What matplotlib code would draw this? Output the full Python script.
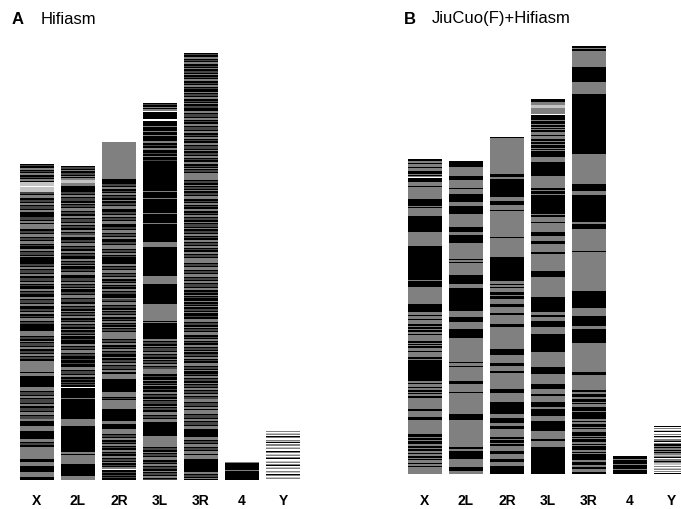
import numpy as np
import matplotlib.pyplot as plt

plt.rcParams['font.family'] = ['Liberation Sans', 'DejaVu Sans']

# chromosome arms, left to right
chrom_names = ['X', '2L', '2R', '3L', '3R', '4', 'Y']

# contig runs per arm, top to bottom: colour letter + length in 75 kb bins
# k = black contig, g = grey contig, d = dark grey (dense small contigs),
# l = light grey, w = gap
A_X = ("k1 d1 k2 g2 k1 d1 k1 g2 k2 d1 k1 g2 k1 l4 w1 l5 "
       "d2 k1 g3 k2 d2 k1 g2 k1 d3 k1 g2 k2 k3 d3 k1 g2 k1 g5 k2 "
       "d2 k1 g3 k1 d2 k1 g3 k1 d1 k3 g2 k1 d3 k1 g1 k7 "
       "d2 k1 g2 k1 d3 k1 g2 k2 d3 k1 g2 k1 d1 k3 g2 k1 d2 k3 "
       "g2 k1 d3 k1 g2 k3 d2 k1 g2 k2 d1 k1 g3 k1 d2 k7 g5 "
       "k1 d2 k2 g1 k1 d3 k1 g2 k2 d2 k1 g2 k1 d2 k2 g11 k1 g3 k11 g4 "
       "k1 d3 k1 g2 k1 d4 k1 g2 k2 d3 k1 g3 k1 d3 g2 k5 g5 k8 g3 "
       "k1 d2 k2 g2 g10 k3 g4 k6 g5 k3")
A_2L = ("k1 d2 k1 g1 k2 d2 k1 g1 k1 g2 l3 g3 k6 "
        "d2 k1 g2 k1 d3 k2 g1 k1 d2 k1 g3 k1 d2 k2 g2 k1 d3 k1 g2 k1 d2 k2 g2 k1 d2 g2 "
        "k3 d2 k1 g3 k1 d2 k2 g2 k1 d2 k1 k2 g2 k1 d2 k1 g1 k3 d2 k1 g3 k1 k2 "
        "d3 k1 g2 k1 d2 k1 g1 k3 d2 k1 g3 k1 d3 k2 g2 k1 d2 k2 g1 k1 d2 "
        "k1 g2 k2 d1 k1 g2 k1 d2 k2 g1 k2 d2 k1 g1 k3 d1 k4 "
        "g2 k1 d2 k1 g3 k1 d2 k1 k2 d1 k3 d1 k3 g3 k1 d3 k1 g2 "
        "k2 d1 k2 d1 k1 d1 k2 w1 k10 g1 k20 g7 k26 g2 k1 g9 k12 g4")
A_2R = ("g37 k5 d2 k1 g2 k2 d1 k1 g2 k1 d2 k2 g1 k2 d2 k1 g3 k3 "
        "d2 k1 g2 k1 d2 k1 g3 k3 d2 k1 g3 k1 d2 k1 g2 k3 d2 k1 g1 g3 "
        "k1 d2 k1 g2 k1 d1 k7 g2 k1 d2 k1 g3 k1 d2 k1 g2 k2 d1 k1 g2 k1 d1 k2 "
        "g2 k1 d2 k4 g1 d2 k1 g3 k1 d2 k2 g1 k1 d2 k1 g2 k2 d1 k1 g2 k1 d1 "
        "k2 g1 k1 d2 k1 g2 g5 k1 d2 k1 g2 k2 d1 k1 g2 k1 d2 k3 g1 k2 "
        "d2 k1 g2 k1 d3 k1 g2 k2 g2 g3 k13 g5 k1 d1 k1 g2 g7 k12 g3 k5 g5 "
        "k1 d2 k1 g2 k2 d1 k1 g2 k1 d1 k2 g2 k1 d1 k2 g2 k1 d2 k1 g1 k2 d1 k1 g2 "
        "w1 k2 d1 k2 d1 k1 d1 k2")
A_3L = ("k1 d1 k2 g1 k1 g2 w1 k7 w2 k5 g1 k4 g1 k3 g1 k5 "
        "g2 k2 d1 k2 g2 k3 d1 k2 g1 k3 d1 k3 "
        "k27 g1 k6 g1 k14 g1 k9 g1 k18 g5 k29 g8 k20 g17 k1 g1 k1 k15 "
        "g2 k1 d2 k2 g1 k1 d3 k1 g2 k1 d2 k2 g1 k1 d2 k1 g2 k1 d2 g5 "
        "k2 d1 k3 g1 k2 d1 k1 g1 k3 d1 k2 g2 k1 d2 k2 g1 k1 d3 k2 g1 k1 d2 k2 "
        "g3 k1 d2 k1 g3 k14 g11 "
        "k1 d2 k2 g1 k1 d2 k1 g3 k2 d1 k1 g2 k1 d2 k2 g1 k1 d2 k1 g2 k1 d1")
A_3R = ("k1 d1 k2 g2 k1 d1 k1 g2 k2 d1 k1 g1 k2 d2 k1 g1 k2 d1 k1 g2 "
        "k2 d1 k1 g2 k1 d1 k3 g1 k1 d2 k1 g2 k2 d1 k1 g1 k2 d2 "
        "k3 g2 k1 d3 k1 g2 k1 d1 k2 g2 k1 d3 k1 g2 k2 d1 k1 g2 "
        "k1 d1 k2 g2 k1 d3 k1 g1 k2 d2 k1 g2 k1 d1 k2 g2 k2 d1 k1 g1 k1 d2 k1 g2 g5 "
        "k1 d2 k2 g1 k1 d2 k1 g1 k2 d2 k1 g3 k2 d1 k1 g2 k1 d1 k2 g2 "
        "k2 d1 k1 g2 k1 d2 k2 g1 k1 d3 k1 g1 k2 d2 k1 g2 k1 d1 k2 g2 k1 d2 k1 g2 "
        "k1 d1 k2 g2 k1 d2 k1 g2 "
        "g3 k1 d2 k1 g3 k1 d2 k1 g3 k1 d2 k1 g2 k1 d3 k1 g2 "
        "k2 d1 k2 g1 k1 d1 k3 g1 k2 d1 k1 g1 k2 d2 k1 g1 k3 d1 k2 g1 "
        "g2 k1 d2 k2 g1 k1 d2 k1 g3 k2 d1 k1 g2 k1 d1 k2 g2 k1 d2 k1 "
        "g1 k2 d2 k1 g2 k1 d1 k2 g3 k1 d2 k1 g1 k3 d1 k1 g2 k1 d2 k2 g1 k1 d2 k1 g2 "
        "k1 d2 k1 g2 k1 d2 "
        "g3 k1 d3 k1 g2 k1 g4 k1 d3 k1 g2 k1 d3 k1 g3 k8 "
        "g3 k1 d2 k1 g3 k1 d2 k1 g3 k1 g4 k13 g2 k1 d2 k1 g1 k1")
A_4 = "g1 k7 g1 k9"
A_Y = ("g1 w1 l1 g1 w1 k1 g1 w2 g1 l1 k1 w1 g2 w1 l1 g1 w2 k1 g1 w1 l1 g1 "
       "w1 g1 k1 w2 l1 g1 w1 g1 k1 w1 l1 g1 w2 g1 l1 w1 k1 g1 w1 l1 g1 w1")

B_X = ("k2 g2 k1 g3 k1 g3 k3 g1 k1 g1 w1 k4 g4 k1 g12 k7 g1 k1 g1 g7 k16 g14 k13 "
       "k21 g1 k6 g17 k8 "
       "g3 k1 g3 k1 g4 k2 g1 k2 g1 k2 g2 k1 g6 k2 g1 k1 g1 k2 g3 k1 g5 k2 g1 k21 "
       "g2 k1 g3 k1 g2 k2 g1 k1 g2 k2 g11 k2 g6 k3 g14 "
       "k3 g1 k2 g1 k3 g2 k2 g1 k2 g2 k1 g2 k2 g1 k1 g3 k1 g2 k1 g7")
B_2L = ("k6 g9 k4 g8 k1 g5 k8 g4 k8 g13 k5 g3 k8 g16 k1 g2 k1 g12 k9 g4 k23 "
        "g6 k5 g7 k9 g24 k1 g3 k1 g14 k3 g8 k1 g21 k6 g27 k2 g2 k8 g8 k4 g3")
B_2R = ("k1 g36 k3 g2 k18 g4 k4 g5 k1 g26 k1 g17 g2 k24 "
        "g3 k1 g2 k1 g4 k3 g1 k3 g5 k3 g6 k2 g9 k3 g22 k6 g8 k3 g5 k2 g16 "
        "k4 g9 k12 g4 k5 g3 k3 g8 k2 g1 k3 g1 k2 g5 k3 g5 k3 g4 k8")
B_3L = ("k3 g3 l3 g6 w1 k3 k2 g1 k3 g1 k2 g1 k1 g1 k2 g3 k1 g3 "
        "k2 g1 k2 g1 k3 g1 k1 g1 k1 k5 g5 k14 g12 k2 g1 k3 g1 k2 k15 k2 g1 k2 "
        "g5 k1 g9 k4 g5 k3 g8 k2 g17 k6 g20 k15 g3 k2 g4 k6 g7 k18 g15 k7 "
        "g10 k5 g5 k2 g6 k5 g2 k7 g5 k10 g8 k2 g6 k27")
B_3R = ("k2 g1 k2 g16 k15 g12 k60 g30 k7 g4 k27 g2 k5 g22 k1 g39 k17 g8 k10 "
        "g3 k14 g29 k3 g15 "
        "k2 g2 k3 g2 k3 g1 k1 g3 k4 g1 k7 g2 k1 g2 k3 g1 k1 g3 k4 g1 k1 g1 "
        "k3 g2 k1 g1 k4 g2 k1 g1 k6 g2 k3 g2 k2 g2 g1 k2")
B_4 = "k3 g1 k4 g1 k4 g1 k4"
B_Y = ("k1 w1 g1 w1 l1 k1 w2 g1 w1 k1 l1 w1 g2 k1 w1 g1 k2 g1 k1 g2 k1 g1 k1 "
       "g2 l1 g1 k1 w1 g2 k1 g1 l2 w1 g1 w1 l1 g1 w1 g1 w1 k1")

hifiasm_runs = [A_X, A_2L, A_2R, A_3L, A_3R, A_4, A_Y]
jiucuo_runs = [B_X, B_2L, B_2R, B_3L, B_3R, B_4, B_Y]

palette = {'k': '#000000', 'g': '#808080', 'd': '#454545',
           'l': '#c4c4c4', 'w': '#ffffff'}


def draw_arm(ax, pos, runs):
    tokens = runs.split()
    lens = np.array([int(t[1:]) for t in tokens], dtype=float)
    cols = [palette[t[0]] for t in tokens]
    total = lens.sum()
    bottoms = total - np.cumsum(lens)
    ax.bar(np.full(len(lens), pos), lens, bottom=bottoms, width=0.83,
           color=cols, linewidth=0, align='center')


fig = plt.figure(figsize=(6.81, 5.10), dpi=100)

# panel A: bars start at x=37 px, 41 px apart; base at y=481 px
ax_a = fig.add_axes([0, 0, 340 / 681, 1])
ax_a.set_xlim(-37 / 41, (340 - 37) / 41)
ax_a.set_ylim(-29, 481)
# panel B: first bar at x=425 px; base at y=475 px
ax_b = fig.add_axes([340 / 681, 0, 341 / 681, 1])
ax_b.set_xlim(-85 / 41, (341 - 85) / 41)
ax_b.set_ylim(-35, 475)

for ax, runs_list, label_y in [(ax_a, hifiasm_runs, -20), (ax_b, jiucuo_runs, -26)]:
    for i, runs in enumerate(runs_list):
        draw_arm(ax, i, runs)
        ax.text(i, label_y, chrom_names[i], ha='center', va='center',
                fontsize=10, fontweight='bold')
    ax.axis('off')

fig.text(12 / 681, 1 - 19 / 510, 'A', fontsize=12, fontweight='bold', va='center')
fig.text(41 / 681, 1 - 19 / 510, 'Hifiasm', fontsize=12, va='center')
fig.text(404 / 681, 1 - 19 / 510, 'B', fontsize=12, fontweight='bold', va='center')
fig.text(432 / 681, 1 - 19 / 510, 'JiuCuo(F)+Hifiasm', fontsize=12, va='center')

fig.savefig('out.png', dpi=100)
